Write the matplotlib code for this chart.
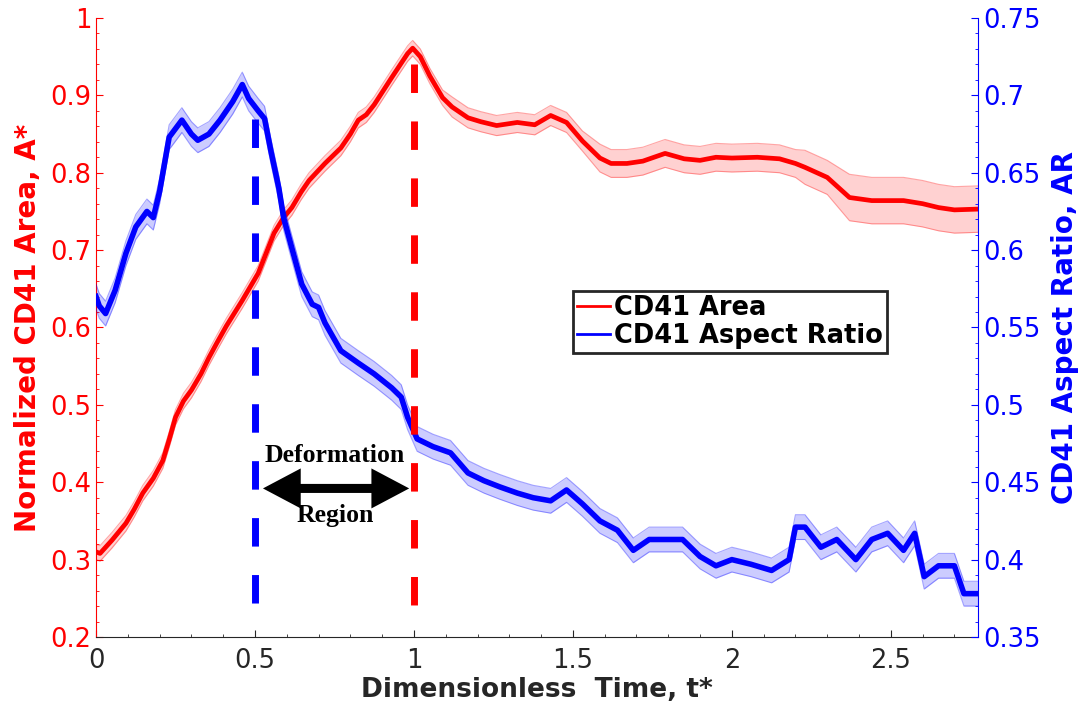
import numpy as np
import matplotlib
matplotlib.use("Agg")
import matplotlib.pyplot as plt
from matplotlib.patches import FancyArrowPatch
from matplotlib.ticker import MultipleLocator, FuncFormatter

# CD41 area (left axis)
t_area = [0.0, 0.0125, 0.05, 0.094, 0.12, 0.147, 0.18, 0.21, 0.23, 0.25, 0.275, 0.30, 0.33,
          0.355, 0.38, 0.41, 0.46, 0.51, 0.56, 0.59, 0.616, 0.645, 0.67, 0.72, 0.77, 0.80,
          0.825, 0.85, 0.875, 0.93, 0.98, 0.996, 1.02, 1.05, 1.09, 1.12, 1.17, 1.21, 1.26,
          1.325, 1.38, 1.43, 1.48, 1.53, 1.585, 1.62, 1.67, 1.72, 1.79, 1.85, 1.9, 1.95,
          2.0, 2.08, 2.15, 2.2, 2.23, 2.30, 2.37, 2.44, 2.54, 2.6, 2.65, 2.70, 2.774]
area = [0.310, 0.308, 0.325, 0.347, 0.365, 0.386, 0.405, 0.428, 0.455, 0.484, 0.505, 0.519,
        0.540, 0.561, 0.580, 0.602, 0.635, 0.670, 0.722, 0.742, 0.755, 0.775, 0.790, 0.812,
        0.832, 0.850, 0.868, 0.875, 0.888, 0.923, 0.954, 0.961, 0.950, 0.925, 0.897, 0.885,
        0.871, 0.866, 0.861, 0.865, 0.862, 0.874, 0.865, 0.841, 0.819, 0.812, 0.812, 0.815,
        0.825, 0.818, 0.816, 0.820, 0.819, 0.820, 0.818, 0.812, 0.807, 0.794, 0.768, 0.764,
        0.764, 0.760, 0.755, 0.752, 0.753]
area_sd = [0.01] * 35 + [0.013] * 9 + [0.018] * 12 + [0.022] * 2 + [0.03] * 7

# CD41 aspect ratio (right axis)
t_ar = [0.0, 0.01, 0.03, 0.06, 0.094, 0.125, 0.16, 0.18, 0.2, 0.23, 0.27, 0.30, 0.32, 0.355,
        0.39, 0.43, 0.46, 0.48, 0.51, 0.53, 0.55, 0.575, 0.59, 0.615, 0.647, 0.68, 0.70,
        0.72, 0.77, 0.825, 0.875, 0.93, 0.96, 0.98, 1.01, 1.06, 1.115, 1.17, 1.22, 1.27,
        1.325, 1.375, 1.43, 1.48, 1.53, 1.585, 1.64, 1.69, 1.74, 1.79, 1.845, 1.9, 1.95,
        2.0, 2.06, 2.125, 2.18, 2.2, 2.23, 2.28, 2.33, 2.39, 2.44, 2.49, 2.54, 2.575, 2.605,
        2.65, 2.70, 2.73, 2.774]
ar = [0.570, 0.564, 0.559, 0.574, 0.598, 0.615, 0.625, 0.621, 0.638, 0.673, 0.684, 0.675,
      0.671, 0.675, 0.684, 0.696, 0.707, 0.698, 0.690, 0.685, 0.664, 0.640, 0.621, 0.602,
      0.578, 0.565, 0.563, 0.553, 0.535, 0.527, 0.520, 0.511, 0.505, 0.492, 0.478, 0.473,
      0.469, 0.456, 0.451, 0.447, 0.443, 0.440, 0.438, 0.445, 0.436, 0.425, 0.419, 0.406,
      0.413, 0.413, 0.413, 0.402, 0.396, 0.400, 0.397, 0.393, 0.400, 0.421, 0.421, 0.408,
      0.413, 0.400, 0.413, 0.417, 0.406, 0.417, 0.389, 0.396, 0.396, 0.378, 0.378]
ar_sd = [0.008] * len(ar)

dark = "#262626"
plt.rcParams['font.family'] = 'DejaVu Sans'

fig = plt.figure(figsize=(10.89, 7.17), dpi=100)
ax = fig.add_axes([0.0882, 0.1116, 0.898 - 0.0882, 0.9749 - 0.1116])
ax2 = ax.twinx()

# area with band
a = np.array(area); sa = np.array(area_sd)
ax.fill_between(t_area, a - sa, a + sa, color=(1, 0, 0), alpha=0.18, lw=0)
ax.plot(t_area, a - sa, color=(1, 0, 0), alpha=0.35, lw=0.8)
ax.plot(t_area, a + sa, color=(1, 0, 0), alpha=0.35, lw=0.8)
ax.plot(t_area, a, color=(1, 0, 0), lw=3.4)

# aspect ratio with band
b = np.array(ar); sb = np.array(ar_sd)
ax2.fill_between(t_ar, b - sb, b + sb, color=(0, 0, 1), alpha=0.2, lw=0)
ax2.plot(t_ar, b - sb, color=(0, 0, 1), alpha=0.35, lw=0.8)
ax2.plot(t_ar, b + sb, color=(0, 0, 1), alpha=0.35, lw=0.8)
ax2.plot(t_ar, b, color=(0, 0, 1), lw=4)

# deformation region markers
ax2.plot([0.5, 0.5], [0.685, 0.359], color=(0, 0, 1), lw=5, linestyle=(0, (4.1, 4.1)),
         dash_capstyle='butt')
ax2.plot([1.0, 1.0], [0.72, 0.359], color=(1, 0, 0), lw=5, linestyle=(0, (4.1, 4.1)),
         dash_capstyle='butt')

arr = FancyArrowPatch((0.525, 0.392), (0.985, 0.392), arrowstyle='<|-|>,head_length=17,head_width=9',
                      mutation_scale=1, lw=6.5, color='black', shrinkA=0, shrinkB=0,
                      joinstyle='miter', capstyle='butt')
ax.add_patch(arr)
ax.text(0.752, 0.435, "Deformation", family='Liberation Serif', weight='bold', fontsize=18.5,
        ha='center', va='center')
ax.text(0.752, 0.357, "Region", family='Liberation Serif', weight='bold', fontsize=18.5,
        ha='center', va='center')

# axes styling
ax.set_xlim(0, 2.774)
ax.set_ylim(0.2, 1.0)
ax2.set_ylim(0.35, 0.75)
fmt = FuncFormatter(lambda v, p: "%g" % round(v, 3))
ax.xaxis.set_major_locator(MultipleLocator(0.5))
ax.xaxis.set_minor_locator(MultipleLocator(0.1))
ax.yaxis.set_major_locator(MultipleLocator(0.1))
ax.yaxis.set_minor_locator(MultipleLocator(0.02))
ax2.yaxis.set_major_locator(MultipleLocator(0.05))
ax2.yaxis.set_minor_locator(MultipleLocator(0.01))
ax.xaxis.set_major_formatter(fmt)
ax.yaxis.set_major_formatter(fmt)
ax2.yaxis.set_major_formatter(fmt)

for s in ['top', 'right']:
    ax.spines[s].set_visible(False)
for s in ['top', 'left', 'bottom']:
    ax2.spines[s].set_visible(False)
ax.spines['left'].set_color((1, 0, 0))
ax.spines['bottom'].set_color(dark)
ax2.spines['right'].set_color((0, 0, 1))

ax.tick_params(axis='x', which='both', direction='in', colors=dark, labelsize=18.5, pad=8)
ax.tick_params(axis='x', which='major', length=5)
ax.tick_params(axis='x', which='minor', length=2.5)
ax.tick_params(axis='y', which='both', direction='in', colors=(1, 0, 0), labelsize=18.5)
ax.tick_params(axis='y', which='major', length=5)
ax.tick_params(axis='y', which='minor', length=2.5)
ax2.tick_params(axis='y', which='both', direction='in', colors=(0, 0, 1), labelsize=18.5)
ax2.tick_params(axis='y', which='major', length=5)
ax2.tick_params(axis='y', which='minor', length=2.5)

ax.set_xlabel("Dimensionless  Time, t*", fontsize=19, weight='bold', color=dark, labelpad=2)
ax.set_ylabel("Normalized CD41 Area, A*", fontsize=20, weight='bold', color=(1, 0, 0), labelpad=6)
ax2.set_ylabel("CD41 Aspect Ratio, AR", fontsize=20, weight='bold', color=(0, 0, 1), labelpad=8)

h1, = ax.plot([], [], color=(1, 0, 0), lw=2)
h2, = ax.plot([], [], color=(0, 0, 1), lw=2)
leg = ax2.legend([h1, h2], ["CD41 Area", "CD41 Aspect Ratio"], loc='upper left',
                 bbox_to_anchor=(573 / 1089, 1 - 291 / 717), bbox_transform=fig.transFigure,
                 prop={'size': 18.5, 'weight': 'bold'}, handlelength=1.3, handletextpad=0.15,
                 borderpad=0.15, labelspacing=0.1, borderaxespad=0, fancybox=False, framealpha=1)
leg.get_frame().set_edgecolor(dark)
leg.get_frame().set_linewidth(2)

fig.savefig("out.png", dpi=100)
